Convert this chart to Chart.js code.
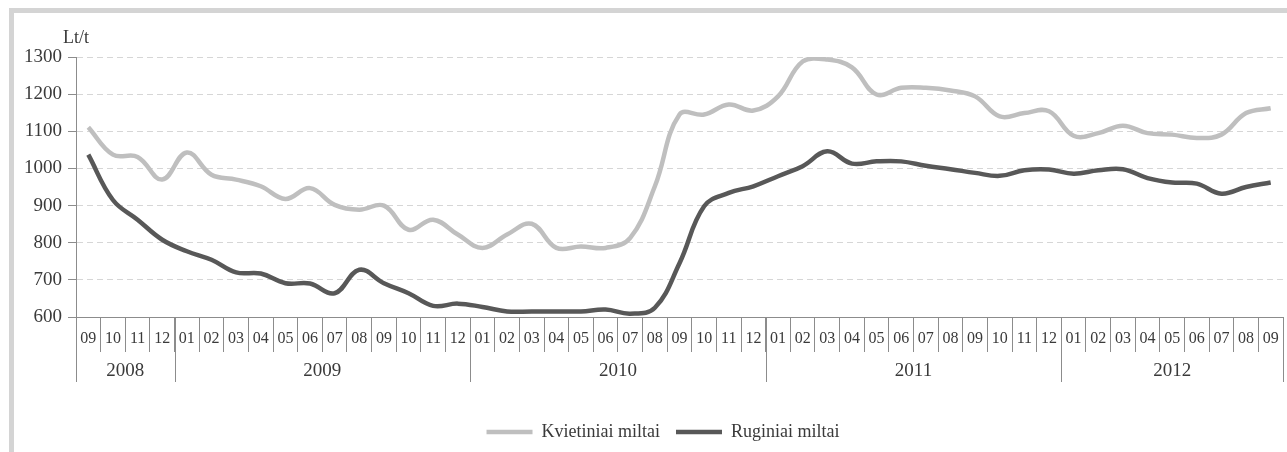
<!DOCTYPE html>
<html>
<head>
<meta charset="utf-8">
<script src="https://cdn.jsdelivr.net/npm/chart.js@4.4.0/dist/chart.umd.min.js"></script>
<style>
    html, body { margin: 0; padding: 0; background: #fff; overflow: hidden; }
    .frame {
        position: absolute; left: 9px; top: 8px; width: 2000px; height: 1000px;
        border-left: 5px solid #d4d4d4; border-top: 5px solid #d4d4d4;
    }
    .wrap { position: absolute; left: 0; top: 0; width: 1310px; height: 452px; }
</style>
</head>
<body>
<div class="frame"></div>
<div class="wrap"><canvas id="flourChart"></canvas></div>
<script>
// Month labels 2008-09 ... 2012-09
const months = [
    '09', '10', '11', '12',
    '01', '02', '03', '04', '05', '06', '07', '08', '09', '10', '11', '12',
    '01', '02', '03', '04', '05', '06', '07', '08', '09', '10', '11', '12',
    '01', '02', '03', '04', '05', '06', '07', '08', '09', '10', '11', '12',
    '01', '02', '03', '04', '05', '06', '07', '08', '09'
];
const years = ['2008', '2009', '2010', '2011', '2012'];
const yearMonths = [4, 12, 12, 12, 9];

// Lt/t
const wheatFlour = [
    1111, 1037, 1031, 970, 1043, 983, 970, 952, 918, 947, 902, 889, 900, 835, 862,
    822, 786, 822, 851, 786, 790, 786, 813, 952, 1145, 1145, 1172, 1156, 1194, 1288, 1293, 1272,
    1199, 1217, 1217, 1210, 1194, 1140, 1149, 1154, 1088, 1095, 1115, 1095, 1091, 1082, 1091, 1149, 1162
];
const ryeFlour = [
    1037, 915, 862, 808, 777, 754, 720, 717, 691, 690, 664, 727, 691, 664, 630,
    636, 627, 615, 615, 615, 615, 620, 609, 625, 745, 898, 934, 952, 979, 1006, 1046, 1013,
    1019, 1019, 1007, 998, 988, 980, 995, 997, 986, 995, 998, 974, 962, 959, 932, 950, 962
];

const serif = '"Liberation Serif", "Times New Roman", serif';
const axisColor = '#8c8c8c';
const textColor = '#3a3a3a';

// year row under the month labels + unit label
const yearAxis = {
    id: 'yearAxis',
    afterDraw(chart) {
        const x = chart.scales.x;
        const ctx = chart.ctx;
        const top = chart.chartArea.bottom;
        const step = x.getPixelForValue(1) - x.getPixelForValue(0);
        let start = 0;
        ctx.save();
        ctx.strokeStyle = axisColor;
        ctx.lineWidth = 1;
        ctx.fillStyle = textColor;
        ctx.font = '19px ' + serif;
        ctx.textAlign = 'center';
        ctx.textBaseline = 'middle';
        yearMonths.forEach((n, i) => {
            const left = x.getPixelForValue(start) - step / 2;
            const right = x.getPixelForValue(start + n - 1) + step / 2;
            const edges = i === yearMonths.length - 1 ? [left, right] : [left];
            edges.forEach(px => {
                const lx = Math.round(px) + 0.5;
                ctx.beginPath();
                ctx.moveTo(lx, top);
                ctx.lineTo(lx, top + 65);
                ctx.stroke();
            });
            ctx.fillText(years[i], (left + right) / 2, top + 54);
            start += n;
        });

        ctx.textAlign = 'left';
        ctx.textBaseline = 'alphabetic';
        ctx.font = '18px ' + serif;
        ctx.fillText('Lt/t', chart.chartArea.left - 13, chart.chartArea.top - 14);
        ctx.restore();
    }
};

new Chart(document.getElementById('flourChart'), {
    type: 'line',
    data: {
        labels: months,
        datasets: [{
            label: 'Kvietiniai miltai',
            data: wheatFlour,
            borderColor: '#bfbfbf',
            backgroundColor: '#bfbfbf',
            borderWidth: 4.5,
            pointRadius: 0,
            tension: 0.4
        }, {
            label: 'Ruginiai miltai',
            data: ryeFlour,
            borderColor: '#585858',
            backgroundColor: '#585858',
            borderWidth: 4.5,
            pointRadius: 0,
            tension: 0.4
        }]
    },
    options: {
        responsive: true,
        maintainAspectRatio: false,
        animation: false,
        devicePixelRatio: 1,
        layout: { padding: { left: 20, right: 4, top: 57, bottom: 1 } },
        plugins: {
            legend: {
                position: 'bottom',
                labels: {
                    usePointStyle: true,
                    pointStyle: 'line',
                    pointStyleWidth: 46,
                    padding: 16,
                    color: textColor,
                    font: { family: serif, size: 18 }
                }
            },
            tooltip: { enabled: false }
        },
        scales: {
            x: {
                offset: true,
                afterFit: function(scale) { scale.height = 90; },
                grid: {
                    offset: true,
                    drawOnChartArea: false,
                    drawTicks: true,
                    tickLength: 35,
                    tickColor: axisColor
                },
                border: { color: axisColor },
                ticks: {
                    autoSkip: false,
                    maxRotation: 0,
                    padding: -23,
                    color: textColor,
                    font: { family: serif, size: 16 }
                }
            },
            y: {
                min: 600,
                max: 1300,
                afterFit: function(scale) { scale.width = 56; },
                grid: {
                    color: '#d6d6d6',
                    tickLength: 8,
                    tickColor: axisColor
                },
                border: { color: axisColor, dash: [6, 4] },
                ticks: {
                    stepSize: 100,
                    padding: 6,
                    color: textColor,
                    font: { family: serif, size: 19 },
                    callback: function(value) { return String(value); }
                }
            },
            // empty right-hand spacer so the legend sits where it does in the original
            spacer: {
                type: 'linear',
                position: 'right',
                min: 600,
                max: 1300,
                afterFit: function(scale) { scale.width = 23; },
                grid: { display: false },
                border: { display: false },
                ticks: { display: false }
            }
        }
    },
    plugins: [yearAxis]
});
</script>
</body>
</html>
